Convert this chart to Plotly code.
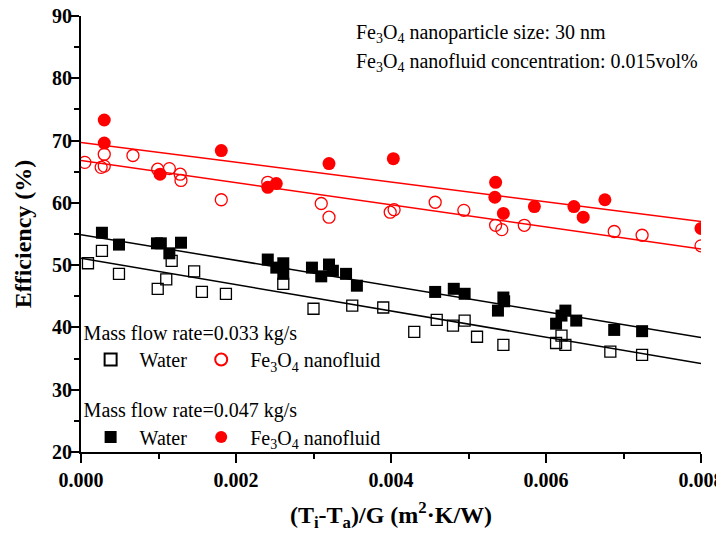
import plotly.graph_objects as go

# ---- data ----
water_033_x = [0.00009, 0.00027, 0.00049, 0.00099, 0.00110, 0.00117, 0.00146, 0.00156, 0.00187, 0.00261,
               0.00300, 0.00350, 0.00390, 0.00430, 0.00459, 0.00480, 0.00495, 0.00511, 0.00545, 0.00613,
               0.00620, 0.00625, 0.00683, 0.00724]
water_033_y = [50.3, 52.3, 48.6, 46.2, 47.7, 50.7, 49.0, 45.7, 45.4, 47.0,
               43.0, 43.5, 43.2, 39.3, 41.2, 40.3, 41.1, 38.5, 37.2, 37.5,
               38.7, 37.2, 36.1, 35.6]

nano_033_x = [0.00005, 0.00026, 0.00030, 0.00030, 0.00067, 0.00099, 0.00114, 0.00128, 0.00129, 0.00181,
              0.00241, 0.00310, 0.00320, 0.00399, 0.00404, 0.00457, 0.00494, 0.00535, 0.00543, 0.00572,
              0.00688, 0.00724, 0.00800]
nano_033_y = [66.5, 65.7, 67.8, 65.9, 67.6, 65.4, 65.5, 64.6, 63.6, 60.5,
              63.3, 59.9, 57.7, 58.5, 58.9, 60.1, 58.8, 56.4, 55.7, 56.4,
              55.4, 54.8, 53.1]

water_047_x = [0.00027, 0.00049, 0.00098, 0.00103, 0.00114, 0.00129, 0.00241, 0.00252, 0.00261, 0.00261,
               0.00298, 0.00310, 0.00320, 0.00325, 0.00342, 0.00356, 0.00457, 0.00481, 0.00495, 0.00545,
               0.00546, 0.00538, 0.00613, 0.00620, 0.00625, 0.00639, 0.00688, 0.00724]
water_047_y = [55.2, 53.3, 53.5, 53.5, 51.9, 53.6, 50.9, 49.6, 50.3, 48.6,
               49.6, 48.2, 50.1, 49.1, 48.6, 46.7, 45.7, 46.2, 45.4, 44.8,
               44.2, 42.7, 40.6, 41.9, 42.7, 41.1, 39.6, 39.4]

nano_047_x = [0.00030, 0.00030, 0.00102, 0.00181, 0.00241, 0.00252, 0.00320, 0.00403, 0.00535, 0.00534,
              0.00545, 0.00585, 0.00636, 0.00648, 0.00676, 0.00800]
nano_047_y = [73.3, 69.6, 64.6, 68.4, 62.5, 63.1, 66.3, 67.1, 63.3, 60.9,
              58.3, 59.4, 59.4, 57.7, 60.5, 55.9]

# linear fit lines (end values)
fit_x = [0.0, 0.008]
fit_water_033 = [51.1, 34.2]
fit_water_047 = [54.9, 38.4]
fit_nano_033 = [66.8, 52.6]
fit_nano_047 = [69.7, 57.0]

x_range = [0.0, 0.008]
y_range = [20, 90]

FONT = "Times New Roman, Liberation Serif, serif"
RED = "#ff0000"

fig = go.Figure()

# fit lines
for yv, col in [(fit_water_033, "black"), (fit_water_047, "black"),
                (fit_nano_033, RED), (fit_nano_047, RED)]:
    fig.add_trace(go.Scatter(x=fit_x, y=yv, mode="lines", line=dict(color=col, width=1.5),
                             showlegend=False, hoverinfo="skip"))

fig.add_trace(go.Scatter(x=water_033_x, y=water_033_y, mode="markers", name="Water",
                         marker=dict(symbol="square-open", size=11, color="black", line=dict(width=1.3)),
                         legend="legend"))
fig.add_trace(go.Scatter(x=nano_033_x, y=nano_033_y, mode="markers",
                         name="Fe<sub>3</sub>O<sub>4</sub> nanofluid",
                         marker=dict(symbol="circle-open", size=12, color=RED, line=dict(width=1.3)),
                         legend="legend"))
fig.add_trace(go.Scatter(x=water_047_x, y=water_047_y, mode="markers", name="Water",
                         marker=dict(symbol="square", size=12, color="black"),
                         legend="legend2"))
fig.add_trace(go.Scatter(x=nano_047_x, y=nano_047_y, mode="markers",
                         name="Fe<sub>3</sub>O<sub>4</sub> nanofluid",
                         marker=dict(symbol="circle", size=13, color=RED),
                         legend="legend2"))

leg_common = dict(orientation="h", xanchor="left", yanchor="top", bgcolor="rgba(0,0,0,0)",
                  traceorder="normal", itemwidth=48,
                  font=dict(family=FONT, size=20, color="black"), itemsizing="constant",
                  tracegroupgap=0)

fig.update_layout(
    width=724, height=535,
    margin=dict(l=73, r=31, t=8, b=91, autoexpand=False),
    paper_bgcolor="white", plot_bgcolor="white",
    font=dict(family=FONT, color="black"),
    legend=dict(title=dict(text="Mass flow rate=0.033 kg/s", side="top",
                           font=dict(family=FONT, size=20, color="black")),
                x=0.001, y=0.3165, **leg_common),
    legend2=dict(title=dict(text="Mass flow rate=0.047 kg/s", side="top",
                            font=dict(family=FONT, size=20, color="black")),
                 x=0.001, y=0.139, **leg_common),
    xaxis=dict(range=x_range, dtick=0.002, tickformat=".3f", ticks="outside", ticklen=9, tickwidth=1.5,
               tickcolor="black", showline=True, linewidth=2, linecolor="black", showgrid=False,
               zeroline=False, automargin=False, ticklabeloverflow="allow",
               minor=dict(dtick=0.001, ticks="outside", ticklen=5, tickwidth=1.5, tickcolor="black"),
               tickfont=dict(family=FONT, size=20, color="black", weight="bold"),
               title=dict(text="(T<sub>i</sub>-T<sub>a</sub>)/G (m<sup>2</sup>·K/W)",
                          font=dict(family=FONT, size=24, color="black", weight="bold"), standoff=16)),
    yaxis=dict(range=y_range, dtick=10, ticks="outside", ticklen=9, tickwidth=1.5, tickcolor="black",
               showline=True, linewidth=2, linecolor="black", showgrid=False, zeroline=False,
               automargin=False, ticklabelstandoff=-6, ticklabeloverflow="allow",
               minor=dict(dtick=5, ticks="outside", ticklen=5, tickwidth=1.5, tickcolor="black"),
               tickfont=dict(family=FONT, size=20, color="black", weight="bold"),
               title=dict(text="Efficiency (%)",
                          font=dict(family=FONT, size=24, color="black", weight="bold"), standoff=14)),
    xaxis2=dict(overlaying="x", side="top", range=x_range, dtick=0.001, ticks="inside", ticklen=5,
                tickwidth=1.5, tickcolor="black", showticklabels=False, showline=True, linewidth=2,
                linecolor="black", showgrid=False, zeroline=False, automargin=False),
    yaxis2=dict(overlaying="y", side="right", range=y_range, dtick=5, ticks="inside", ticklen=5,
                tickwidth=1.5, tickcolor="black", showticklabels=False, showline=True, linewidth=2,
                linecolor="black", showgrid=False, zeroline=False, automargin=False),
)

fig.add_annotation(xref="paper", yref="paper", x=0.441, y=0.961, xanchor="left", yanchor="middle",
                   showarrow=False, text="Fe<sub>3</sub>O<sub>4</sub> nanoparticle size: 30 nm",
                   font=dict(family=FONT, size=20, color="black"))
fig.add_annotation(xref="paper", yref="paper", x=0.441, y=0.894, xanchor="left", yanchor="middle",
                   showarrow=False, text="Fe<sub>3</sub>O<sub>4</sub> nanofluid concentration: 0.015vol%",
                   font=dict(family=FONT, size=20, color="black"))

fig.write_html("out.html")
